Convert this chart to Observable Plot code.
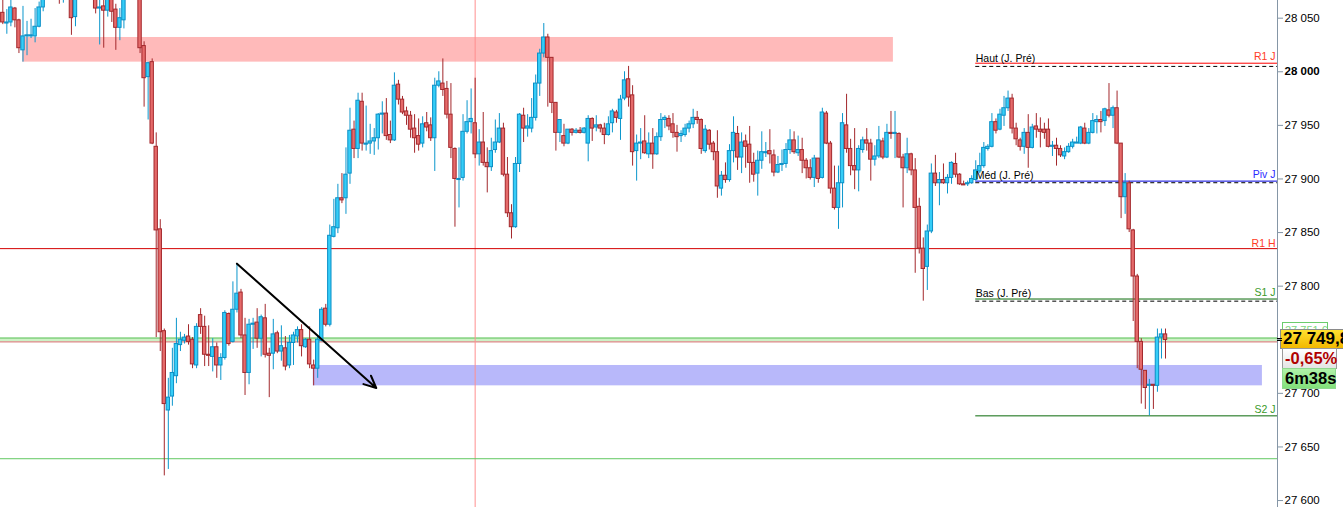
<!DOCTYPE html>
<html><head><meta charset="utf-8">
<script src="https://cdn.jsdelivr.net/npm/d3@7"></script>
<script src="https://cdn.jsdelivr.net/npm/@observablehq/plot@0.6"></script>
<style>
html,body{margin:0;padding:0;background:#fff;}
#wrap{position:relative;width:1343px;height:507px;overflow:hidden;font-family:"Liberation Sans",Arial,sans-serif;}
#wrap svg{display:block;}
.tag{position:absolute;box-sizing:border-box;font-weight:bold;white-space:nowrap;line-height:18px;padding-left:2px;}
</style></head>
<body><div id="wrap"></div>
<script>
// ---- data ----
const open = [
28055,28045,28046,28059,28048,28020,28033,28033,28033,28042,
28060,28073,28083,28088,28080,28071,28077,28073,28051,28072,
28077,28085,28080,28070,28059,28061,28057,28070,28058,28041,
28048,28072,28075,28079,28072,28024,27995,28009,27930,27853,
27758,27684,27697,27716,27745,27749,27753,27750,27726,27773,
27762,27736,27734,27743,27726,27733,27774,27748,27778,27794,
27754,27719,27764,27766,27751,27770,27737,27737,27756,27739,
27742,27726,27747,27753,27759,27743,27750,27726,27723,27749,
27779,27764,27846,27854,27882,27882,27905,27946,27928,27972,
27932,27933,27935,27938,27960,27961,27941,27936,27988,27974,
27963,27959,27947,27940,27933,27952,27950,27938,27987,27989,
27984,27960,27928,27899,27901,27944,27953,27952,27923,27934,
27915,27911,27927,27934,27947,27904,27868,27855,27914,27959,
27947,27947,27957,27989,28017,28032,28013,27971,27943,27940,
27933,27946,27943,27945,27943,27933,27956,27948,27950,27947,
27941,27952,27962,27956,27975,27993,27978,27926,27933,27935,
27923,27933,27923,27939,27955,27956,27951,27943,27940,27941,
27947,27951,27957,27955,27926,27945,27933,27925,27891,27903,
27899,27926,27942,27920,27935,27932,27915,27905,27917,27924,
27926,27922,27906,27913,27914,27927,27936,27924,27927,27917,
27910,27901,27919,27901,27961,27933,27891,27873,27896,27950,
27928,27912,27908,27927,27936,27933,27918,27921,27935,27920,
27943,27942,27942,27920,27910,27923,27908,27874,27835,27818,
27851,27905,27896,27899,27896,27901,27914,27904,27895,27895,
27896,27899,27907,27912,27928,27930,27953,27946,27959,27966,
27975,27947,27936,27930,27943,27929,27949,27946,27946,27946,
27930,27931,27928,27921,27925,27930,27933,27933,27947,27933,
27943,27953,27955,27954,27964,27959,27966,27933,27883,27896,
27852,27809,27748,27721,27707,27708,27707,27752,27755];
const high = [
28069,28058,28069,28060,28049,28061,28047,28049,28059,28065,
28080,28089,28096,28099,28092,28087,28089,28080,28077,28085,
28092,28094,28089,28077,28068,28068,28075,28075,28063,28059,
28080,28085,28087,28088,28075,28028,28009,28012,27943,27862,
27760,27714,27742,27770,27757,27755,27764,27752,27765,27779,
27772,27763,27751,27747,27737,27777,27775,27804,27821,27797,
27770,27769,27770,27779,27773,27783,27742,27769,27758,27763,
27753,27754,27757,27762,27764,27751,27762,27731,27753,27780,
27783,27857,27881,27895,27905,27929,27966,27954,27980,27980,
27968,27951,27947,27961,27972,27975,27954,27999,27992,27977,
27967,27963,27960,27956,27958,27962,27957,27994,28000,28012,
27991,27989,27929,27929,27960,27973,27984,27994,27946,27962,
27929,27938,27955,27961,27952,27920,27876,27920,27961,27966,
27960,27975,27997,28021,28045,28035,28013,27971,27955,27951,
27946,27947,27947,27948,27948,27959,27957,27959,27951,27952,
27958,27965,27964,27978,28000,28005,27987,27941,27947,27959,
27943,27947,27943,27961,27959,27959,27961,27950,27945,27951,
27954,27965,27963,27956,27950,27946,27935,27945,27907,27915,
27932,27958,27949,27943,27941,27949,27924,27926,27944,27934,
27946,27927,27921,27927,27933,27946,27944,27940,27938,27919,
27918,27922,27919,27966,27963,27935,27912,27912,27961,27979,
27937,27947,27931,27939,27947,27937,27931,27949,27938,27951,
27963,27963,27943,27923,27938,27924,27919,27882,27845,27857,
27914,27922,27906,27914,27904,27916,27924,27905,27898,27898,
27903,27917,27924,27934,27932,27961,27956,27965,27977,27982,
27979,27952,27938,27947,27960,27951,27961,27957,27952,27956,
27935,27938,27931,27929,27933,27937,27939,27949,27952,27947,
27961,27959,27963,27966,27989,27968,27982,27933,27905,27898,
27853,27811,27751,27721,27713,27708,27760,27760,27760];
const low = [
28044,28035,28042,28041,28017,28009,28015,28031,28027,28041,
28056,28069,28077,28075,28063,28064,28070,28034,28042,28068,
28071,28073,28069,28054,28025,28022,28051,28046,28020,28029,
28040,28067,28068,28069,28017,27967,27955,27932,27752,27739,
27623,27629,27688,27709,27739,27746,27745,27723,27723,27755,
27725,27725,27720,27714,27712,27731,27744,27747,27775,27751,
27698,27708,27741,27742,27734,27733,27696,27722,27737,27730,
27721,27723,27726,27747,27734,27742,27723,27707,27714,27748,
27762,27762,27845,27849,27877,27867,27895,27919,27919,27926,
27926,27923,27922,27927,27942,27936,27933,27935,27969,27960,
27950,27938,27924,27926,27929,27944,27935,27907,27985,27977,
27956,27919,27855,27873,27898,27942,27942,27919,27912,27912,
27887,27907,27924,27933,27902,27864,27844,27854,27906,27934,
27939,27943,27954,27977,28013,27967,27961,27926,27934,27930,
27932,27940,27942,27942,27942,27916,27935,27944,27943,27932,
27940,27943,27952,27936,27973,27967,27912,27898,27918,27923,
27919,27909,27922,27935,27947,27945,27938,27925,27934,27939,
27943,27947,27951,27923,27924,27927,27917,27882,27884,27896,
27897,27915,27908,27905,27910,27896,27897,27884,27909,27920,
27914,27902,27905,27907,27910,27923,27923,27921,27905,27900,
27899,27892,27896,27900,27932,27886,27871,27853,27873,27924,
27903,27890,27888,27924,27926,27898,27912,27919,27918,27919,
27937,27919,27919,27873,27905,27903,27812,27830,27786,27796,
27849,27893,27875,27895,27886,27895,27901,27894,27894,27893,
27895,27898,27905,27910,27926,27929,27942,27945,27949,27963,
27942,27931,27926,27923,27910,27928,27938,27929,27937,27929,
27921,27912,27920,27918,27924,27928,27933,27932,27932,27932,
27942,27942,27943,27949,27957,27947,27932,27863,27867,27850,
27767,27723,27690,27685,27679,27685,27701,27732,27732];
const close = [
28046,28046,28060,28048,28022,28033,28034,28034,28042,28060,
28073,28083,28088,28080,28071,28077,28073,28050,28072,28077,
28085,28080,28070,28059,28060,28057,28070,28056,28041,28050,
28072,28075,28079,28072,28022,27994,28008,27933,27852,27757,
27690,27696,27719,27746,27750,27752,27748,27727,27762,27762,
27736,27735,27743,27726,27733,27775,27746,27778,27793,27754,
27719,27764,27765,27751,27771,27736,27735,27755,27739,27744,
27725,27747,27754,27759,27744,27750,27727,27723,27750,27778,
27764,27847,27855,27882,27880,27904,27945,27928,27973,27933,
27933,27935,27938,27960,27961,27940,27936,27987,27974,27962,
27959,27946,27938,27932,27951,27948,27938,27987,27991,27983,
27960,27929,27900,27900,27944,27953,27956,27923,27934,27915,
27911,27926,27934,27947,27904,27868,27855,27914,27960,27947,
27949,27957,27989,28017,28032,28013,27971,27943,27955,27933,
27946,27943,27945,27943,27947,27956,27947,27950,27947,27941,
27951,27963,27957,27974,27992,27976,27925,27933,27934,27924,
27933,27923,27939,27955,27957,27949,27943,27939,27942,27947,
27951,27957,27955,27928,27946,27932,27925,27893,27903,27899,
27926,27943,27920,27934,27930,27915,27904,27917,27925,27925,
27923,27906,27913,27914,27927,27936,27925,27927,27917,27910,
27901,27919,27900,27962,27933,27891,27873,27896,27952,27928,
27912,27908,27928,27936,27933,27918,27921,27936,27920,27943,
27942,27943,27920,27910,27923,27908,27873,27835,27816,27851,
27905,27896,27899,27896,27901,27915,27904,27895,27894,27896,
27900,27908,27912,27929,27930,27953,27945,27960,27966,27975,
27947,27937,27930,27943,27929,27948,27946,27944,27943,27930,
27931,27928,27922,27925,27930,27934,27934,27948,27933,27943,
27954,27955,27953,27965,27959,27966,27933,27883,27896,27853,
27809,27748,27722,27705,27708,27707,27752,27755,27749.8];

const yTicks = [27600,27650,27700,27750,27800,27850,27900,27950,28000,28050];
const boldTick = 28000;

// today's pivot levels (start at bar 241) and yesterday's high/median/low
const dayStartBar = 241;
const pivotNames  = ["R1 J","Piv J","S1 J","S2 J"];
const pivotValues = [28008,27898,27788,27679];
const prevNames   = ["Haut (J. Pré)","Méd (J. Pré)","Bas (J. Pré)"];
const prevValues  = [28005,27896.5,27786];
// full-width levels
const hourNames  = ["R1 H",""];
const hourValues = [27835,27639];
// green band around the reference price
const bandLow = 27748, bandHigh = 27751.6;
// zones drawn by the user: [bar from, bar to, price low, price high]
const resistanceZone = [4.9,220.6,28009,28032];
const supportZone    = [76.9,312,27707,27726];
const cursorBar = 117;
const trendFrom = [58,27821];
const trendTo   = [92.5,27705];
const lastPrice = 27749.8, lastPriceText = "27 749,8", refPriceText = "27 751,6";
const changeText = "-0,65%", timerText = "6m38s";

// ---- scales ----
const xDomain = [-0.57, 315.74];
const yDomain = [27593.5, 28066.5];
const xEnd = xDomain[1];

const candles = open.map((o,i)=>({i,o,h:high[i],l:low[i],c:close[i],up:close[i]>=o}));
const pivots = pivotNames.map((n,k)=>({n,v:pivotValues[k]}));
const prevs = prevNames.map((n,k)=>({n,v:prevValues[k]}));
const hours = hourNames.map((n,k)=>({n,v:hourValues[k]}));

const pivotLine  = {"R1 J":"#ff0000","Piv J":"#0000dd","S1 J":"#0a6a0a","S2 J":"#0a6a0a"};
const pivotLabel = {"R1 J":"#ff3b25","Piv J":"#2b2bff","S1 J":"#3a9a2a","S2 J":"#3a9a2a"};
const hourLine = ["#d40000","#62c862"];

const fmt = d => d3.format(",")(d).replace(/,/g," ");
const font = "Liberation Sans, Arial, sans-serif";

const chart = Plot.plot({
  width: 1343, height: 507,
  marginLeft: 0, marginRight: 66, marginTop: 0, marginBottom: 0,
  style: {fontFamily: font, background: "#fff", overflow: "visible"},
  x: {domain: xDomain, axis: null},
  y: {domain: yDomain},
  marks: [
    Plot.rect([resistanceZone], {x1: d=>d[0], x2: d=>d[1], y1: d=>d[2], y2: d=>d[3], fill: "#ffbaba"}),
    Plot.rect([supportZone], {x1: d=>d[0], x2: d=>d[1], y1: d=>d[2], y2: d=>d[3], fill: "#b8b8fa"}),
    Plot.rect([[bandLow,bandHigh]], {x1: xDomain[0], x2: xEnd, y1: d=>d[0], y2: d=>d[1], fill: "#cdf1c6"}),
    Plot.ruleY([bandHigh], {x1: xDomain[0], x2: xEnd, stroke: "#5cc45c"}),
    Plot.ruleY([bandLow], {x1: xDomain[0], x2: xEnd, stroke: "#d46a6a"}),
    Plot.ruleX([cursorBar], {stroke: "#ff8f8f"}),
    Plot.ruleY(hours, {y: "v", x1: xDomain[0], x2: xEnd, stroke: (d,k)=>hourLine[hourNames.indexOf(d.n)]}),
    Plot.ruleY(pivots, {y: "v", x1: dayStartBar, x2: xEnd, stroke: d=>pivotLine[d.n]}),
    Plot.ruleY(prevs, {y: "v", x1: dayStartBar, x2: xEnd, stroke: "#000", strokeDasharray: "4,3"}),
    Plot.ruleX(candles, {x: "i", y1: "l", y2: "h", stroke: d=>d.up ? "#0b96cc" : "#a3282c", clip: true}),
    Plot.rect(candles, {
      x1: d=>d.i-0.42, x2: d=>d.i+0.42,
      y1: "o", y2: d=> Math.abs(d.c-d.o) < 0.6 ? d.o + (d.up ? 0.6 : -0.6) : d.c,
      fill: d=>d.up ? "#35cdf7" : "#e56a6a",
      stroke: d=>d.up ? "#0b8fc6" : "#a3282c", strokeWidth: 1, clip: true
    }),
    Plot.arrow([[trendFrom,trendTo]], {x1: d=>d[0][0], y1: d=>d[0][1], x2: d=>d[1][0], y2: d=>d[1][1],
      stroke: "#000", strokeWidth: 2, headLength: 10, headAngle: 50}),
    Plot.text(prevs, {x: dayStartBar, y: "v", text: "n", textAnchor: "start", lineAnchor: "bottom", dy: -4, fontSize: 10.5, fill: "#000"}),
    Plot.text(pivots, {x: xEnd, y: "v", text: "n", textAnchor: "end", lineAnchor: "bottom", dx: -2, dy: -3, fontSize: 10.5, fill: d=>pivotLabel[d.n]}),
    Plot.text(hours.filter(d=>d.n), {x: xEnd, y: "v", text: "n", textAnchor: "end", lineAnchor: "bottom", dx: -2, dy: -2, fontSize: 10.5, fill: "#ff3b25"}),
    Plot.ruleX([xEnd], {stroke: "#8596a6"}),
    Plot.axisY(yTicks.filter(t=>t!==boldTick), {anchor: "right", tickSize: 5, tickPadding: 2, tickFormat: fmt, fontSize: 11.5, stroke: "#8596a6", fill: "#000"}),
    Plot.axisY([boldTick], {anchor: "right", tickSize: 5, tickPadding: 2, tickFormat: fmt, fontSize: 11.5, fontWeight: "bold", stroke: "#8596a6", fill: "#000"})
  ]
});

const wrap = document.getElementById("wrap");
wrap.appendChild(chart);
const ys = chart.scale("y");
const py = ys.apply(lastPrice);
const pRef = ys.apply(bandHigh);

function tag(text, css){
  const d = document.createElement("div");
  d.className = "tag";
  d.textContent = text;
  Object.assign(d.style, css);
  wrap.appendChild(d);
}
tag(refPriceText, {left:"1282px", top:(pRef-16)+"px", width:"46px", height:"16px", border:"1px solid #6ccc6c",
  background:"#fff", color:"#80d880", fontSize:"11px", fontWeight:"normal", lineHeight:"14px"});
tag(lastPriceText, {left:"1280px", top:(py-10)+"px", width:"80px", height:"20px", border:"1px solid #8a8a8a",
  background:"linear-gradient(#ffe030,#f2b800)", color:"#000", fontSize:"17px"});
tag(changeText, {left:"1282px", top:(py+9)+"px", width:"55px", height:"21px", border:"1px solid #9a9a9a",
  background:"linear-gradient(#ffffff,#e4e4e4)", color:"#b00000", fontSize:"16.5px"});
tag(timerText, {left:"1282px", top:(py+29)+"px", width:"54px", height:"21px", border:"1px solid #8fd88f",
  background:"linear-gradient(#b0f2a8,#82e07a)", color:"#000", fontSize:"16.5px"});
const mk = document.createElement("div");
Object.assign(mk.style, {position:"absolute", left:"1277px", top:(py-1.5)+"px", width:"5px", height:"3px",
  borderTop:"1px solid #000", borderBottom:"1px solid #000", boxSizing:"border-box"});
wrap.appendChild(mk);
</script>
</body></html>
